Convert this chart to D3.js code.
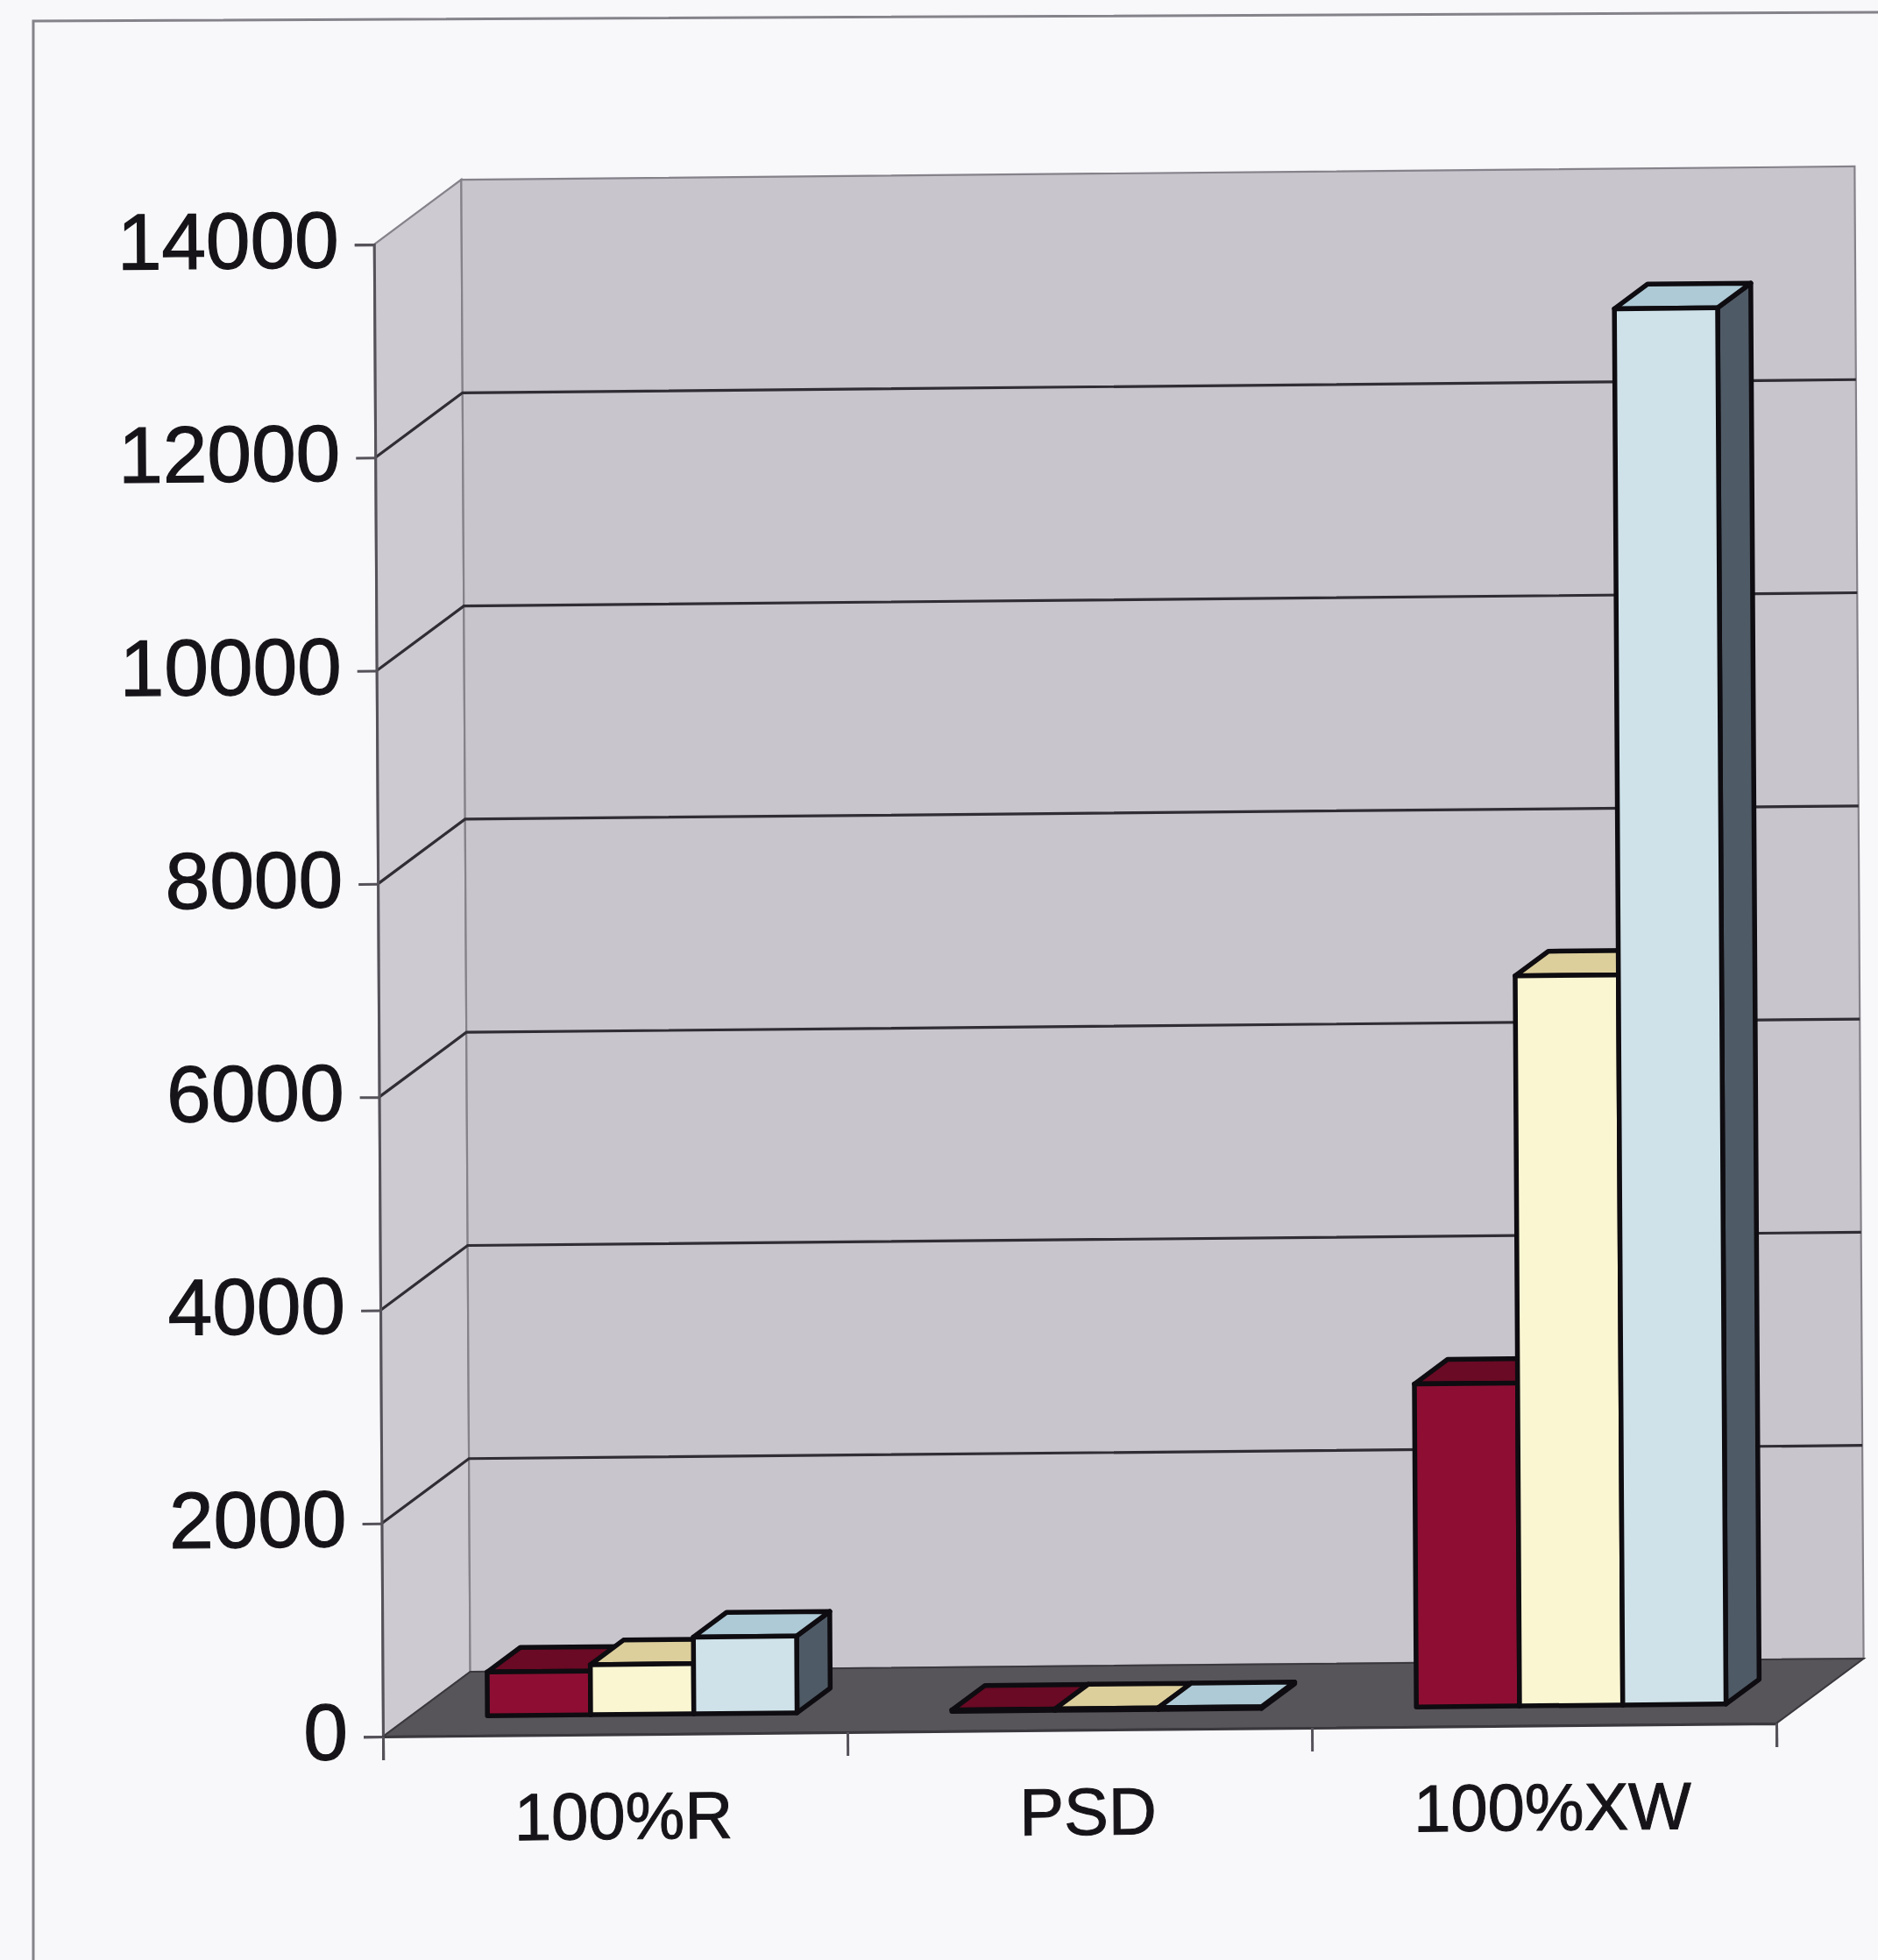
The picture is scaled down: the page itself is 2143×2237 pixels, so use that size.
<!DOCTYPE html>
<html>
<head>
<meta charset="utf-8">
<script src="https://cdn.jsdelivr.net/npm/d3@7"></script>
<style>
  html, body { margin: 0; padding: 0; background: #f8f7fa; }
  svg { display: block; }
</style>
</head>
<body>
<script>
// ---- data ----
const categories = ["100%R", "PSD", "100%XW"];
const series1 = [410, 12, 3030];     // dark red columns
const series2 = [470, 14, 6850];     // pale yellow columns
const series3 = [720, 16, 13100];    // pale blue columns
const yTicks = [0, 2000, 4000, 6000, 8000, 10000, 12000, 14000];

const seriesValues = [series1, series2, series3];
const seriesColors = [
  { front: "#8e0e33", top: "#6a0a25", side: "#560820" },
  { front: "#faf6d2", top: "#ddcf9c", side: "#b9ae82" },
  { front: "#cfe2ea", top: "#aecad6", side: "#4e5a66" }
];

// ---- layout ----
const W = 2143, H = 2237;
const plotLeft = 437, plotRight = 2027, plotBottom = 1982, plotTop = 279;
const depth = { dx: 100, dy: -73 };        // receding direction of the 3-D box
const barFront = 0.31, barBack = 0.69;     // bar slab position inside the depth

const svg = d3.select("body").append("svg")
  .attr("width", W).attr("height", H)
  .style("font-family", "'Liberation Sans', Arial, Helvetica, sans-serif");

svg.append("rect").attr("width", W).attr("height", H).attr("fill", "#f8f7fa");

// outer frame
svg.append("path")
  .attr("d", `M38,${H} L38,24 L${W},14`)
  .attr("fill", "none").attr("stroke", "#85838a").attr("stroke-width", 3);

// whole chart sits on a slightly tilted sheet
const g = svg.append("g")
  .attr("transform", `translate(${plotLeft},${plotBottom}) matrix(1,-0.0095,0.006,1,0,0) translate(${-plotLeft},${-plotBottom})`);

const x = d3.scaleBand().domain(categories).range([plotLeft, plotRight]).padding(0);
const xs = d3.scaleBand().domain(d3.range(3)).range([0, x.bandwidth()])
  .paddingInner(0).paddingOuter(0.75);
const y = d3.scaleLinear().domain([0, 14000]).range([plotBottom, plotTop]);

const bx = depth.dx, by = depth.dy;
const pt = (p) => p.map(d => d.join(",")).join(" ");

// side wall (left)
g.append("polygon")
  .attr("points", pt([[plotLeft, y(0)], [plotLeft, y(14000)], [plotLeft + bx, y(14000) + by], [plotLeft + bx, y(0) + by]]))
  .attr("fill", "#cdcad2").attr("stroke", "#85828a").attr("stroke-width", 2.2);

// back wall
g.append("polygon")
  .attr("points", pt([[plotLeft + bx, y(0) + by], [plotLeft + bx, y(14000) + by], [plotRight + bx, y(14000) + by], [plotRight + bx, y(0) + by]]))
  .attr("fill", "#c8c5cd").attr("stroke", "#85828a").attr("stroke-width", 2.2);

// gridlines: across the side wall and the back wall
g.append("g").selectAll("path")
  .data(yTicks.filter(t => t > 0 && t < 14000))
  .join("path")
  .attr("d", t => `M${plotLeft},${y(t)} L${plotLeft + bx},${y(t) + by} L${plotRight + bx},${y(t) + by}`)
  .attr("fill", "none").attr("stroke", "#302e34").attr("stroke-width", 3.2);

// floor
g.append("polygon")
  .attr("points", pt([[plotLeft, y(0)], [plotRight, y(0)], [plotRight + bx, y(0) + by], [plotLeft + bx, y(0) + by]]))
  .attr("fill", "#575559").attr("stroke", "#3a383d").attr("stroke-width", 2);

// columns
const bars = [];
categories.forEach((c, ci) => {
  seriesValues.forEach((vals, si) => {
    bars.push({ c, si, v: vals[ci] });
  });
});

const fdx = barFront * bx, fdy = barFront * by;
const ddx = (barBack - barFront) * bx, ddy = (barBack - barFront) * by;

const barG = g.append("g").attr("stroke", "#0e0c10").attr("stroke-width", 5.5).attr("stroke-linejoin", "round");
bars.forEach(b => {
  const x0 = x(b.c) + xs(b.si) + fdx, x1 = x0 + xs.bandwidth();
  const yb = y(0) + fdy, yt = y(b.v) + fdy;
  const col = seriesColors[b.si];
  const bg = barG.append("g");
  bg.append("polygon")
    .attr("points", pt([[x1, yt], [x1 + ddx, yt + ddy], [x1 + ddx, yb + ddy], [x1, yb]]))
    .attr("fill", col.side);
  bg.append("polygon")
    .attr("points", pt([[x0, yt], [x1, yt], [x1 + ddx, yt + ddy], [x0 + ddx, yt + ddy]]))
    .attr("fill", col.top);
  bg.append("rect")
    .attr("x", x0).attr("y", yt).attr("width", x1 - x0).attr("height", yb - yt)
    .attr("fill", col.front);
});

// value axis
const yAxis = g.append("g")
  .attr("transform", `translate(${plotLeft},0)`)
  .call(d3.axisLeft(y).tickValues(yTicks).tickSize(22).tickPadding(18).tickFormat(d3.format("d")));
yAxis.select(".domain").attr("stroke", "#55525a").attr("stroke-width", 3);
yAxis.selectAll(".tick line").attr("stroke", "#55525a").attr("stroke-width", 3);
yAxis.selectAll(".tick text")
  .attr("fill", "#161418").attr("font-size", 91).attr("dy", "0.28em")
  .attr("stroke", "#161418").attr("stroke-width", 1.2)
  .attr("font-family", "'Liberation Sans', Arial, sans-serif");

// category axis: boundary ticks and labels
const xBound = d3.scaleLinear().domain([0, 3]).range([plotLeft, plotRight]);
const xAxis = g.append("g")
  .attr("transform", `translate(0,${plotBottom})`)
  .call(d3.axisBottom(xBound).tickValues([0, 1, 2, 3]).tickSize(27).tickFormat(""));
xAxis.select(".domain").attr("stroke", "#3a383d").attr("stroke-width", 3);
xAxis.selectAll(".tick line").attr("stroke", "#55525a").attr("stroke-width", 3);

g.append("g").selectAll("text")
  .data(categories)
  .join("text")
  .attr("x", d => x(d) + x.bandwidth() / 2 + 9)
  .attr("y", plotBottom + 93)
  .attr("dy", "0.35em")
  .attr("text-anchor", "middle")
  .attr("font-size", 76)
  .attr("fill", "#161418")
  .attr("stroke", "#161418").attr("stroke-width", 1)
  .text(d => d);
</script>
</body>
</html>
